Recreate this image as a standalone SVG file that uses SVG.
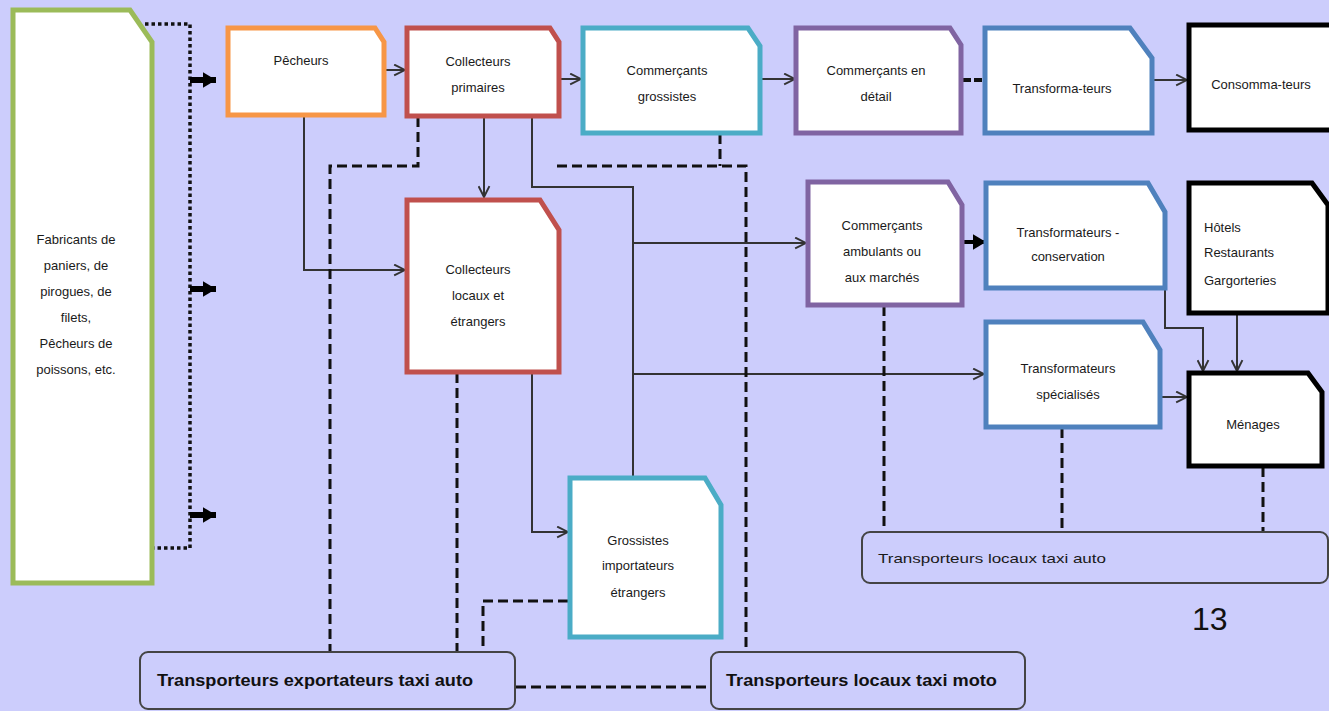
<svg xmlns="http://www.w3.org/2000/svg" width="1329" height="711" viewBox="0 0 1329 711">
<defs>
<style>
.n{fill:#fff;stroke-width:5;stroke-linejoin:miter}
.t{font-family:"Liberation Sans",Arial,sans-serif;font-size:13px;fill:#1a1a1a;text-anchor:middle}
.tl{font-family:"Liberation Sans",Arial,sans-serif;font-size:13px;fill:#1a1a1a}
.sol{fill:none;stroke:#333;stroke-width:2}
.dash{fill:none;stroke:#111;stroke-width:3;stroke-dasharray:10 5}
.dot{fill:none;stroke:#111;stroke-width:3.5;stroke-dasharray:3.5 3}
.rr{fill:none;stroke:#444;stroke-width:2}
.b{font-family:"Liberation Sans",Arial,sans-serif;font-size:17px;font-weight:bold;fill:#111}
</style>
<marker id="v" viewBox="0 0 12 12" refX="11" refY="6" markerWidth="13" markerHeight="13" markerUnits="userSpaceOnUse" orient="auto">
<path d="M1,1 L11,6 L1,11" fill="none" stroke="#333" stroke-width="1.8"/>
</marker>
<marker id="fat" viewBox="0 0 10 12" refX="10" refY="6" markerWidth="13" markerHeight="16" markerUnits="userSpaceOnUse" orient="auto">
<path d="M0,0 L10,6 L0,12 z" fill="#000"/>
</marker>
</defs>
<rect x="0" y="0" width="1329" height="711" fill="#cccdfc"/>

<g id="connectors">
<path class="dot" d="M145,24 H190 V548 H152"/>
<line x1="190" y1="80" x2="216" y2="80" stroke="#000" stroke-width="6" marker-end="url(#fat)"/>
<line x1="190" y1="289" x2="216" y2="289" stroke="#000" stroke-width="6" marker-end="url(#fat)"/>
<line x1="190" y1="515" x2="216" y2="515" stroke="#000" stroke-width="6" marker-end="url(#fat)"/>
<line class="sol" x1="386" y1="70" x2="405" y2="70" marker-end="url(#v)"/>
<line class="sol" x1="561" y1="79" x2="581" y2="79" marker-end="url(#v)"/>
<line class="sol" x1="762" y1="79" x2="795" y2="79" marker-end="url(#v)"/>
<line x1="963" y1="80" x2="984" y2="80" stroke="#111" stroke-width="4" stroke-dasharray="8 3"/>
<line class="sol" x1="1154" y1="80" x2="1187" y2="80" marker-end="url(#v)"/>
<line class="sol" x1="484" y1="117" x2="484" y2="197" marker-end="url(#v)"/>
<path class="sol" d="M304,116 V270 H405" marker-end="url(#v)"/>
<path class="sol" d="M532,116 V187 H633 V492" marker-end="url(#v)"/>
<line class="sol" x1="633" y1="243" x2="806" y2="243" marker-end="url(#v)"/>
<line class="sol" x1="633" y1="374" x2="984" y2="374" marker-end="url(#v)"/>
<path class="sol" d="M532,373 V532 H568" marker-end="url(#v)"/>
<line x1="963" y1="242" x2="986" y2="242" stroke="#000" stroke-width="4" marker-end="url(#fat)"/>
<path class="sol" d="M1165,280 V328 H1203 V371" marker-end="url(#v)"/>
<line class="sol" x1="1237" y1="314" x2="1237" y2="371" marker-end="url(#v)"/>
<line class="sol" x1="1162" y1="397" x2="1187" y2="397" marker-end="url(#v)"/>
<path class="dash" d="M418,117 V166 H330 V652"/>
<path class="dash" d="M720,134 V166"/>
<path class="dash" d="M557,166 H746 V652"/>
<path class="dash" d="M457,373 V652"/>
<path class="dash" d="M568,601 H483 V652"/>
<path class="dash" d="M516,687 H711"/>
<path class="dash" d="M884,306 V532"/>
<path class="dash" d="M1062,428 V532"/>
<path class="dash" d="M1263,467 V532"/>
</g>

<g id="fabricants">
<polygon class="n" stroke="#9bbb59" points="13,10 130,10 152,42 152,583 13,583"/>
<text class="t" x="76" y="244">Fabricants de</text>
<text class="t" x="76" y="270">paniers, de</text>
<text class="t" x="76" y="296">pirogues, de</text>
<text class="t" x="76" y="322">filets,</text>
<text class="t" x="76" y="348">Pêcheurs de</text>
<text class="t" x="76" y="374">poissons, etc.</text>
</g>
<g id="pecheurs">
<polygon class="n" stroke="#f79646" points="228,28 375,28 384,42 384,115 228,115"/>
<text class="t" x="301" y="65">Pêcheurs</text>
</g>
<g id="collecteurs-primaires">
<polygon class="n" stroke="#c0504d" points="407,28 550,28 559,42 559,116 407,116"/>
<text class="t" x="478" y="66">Collecteurs</text>
<text class="t" x="478" y="92">primaires</text>
</g>
<g id="commercants-grossistes">
<polygon class="n" stroke="#4bacc6" points="583,28 748,28 760,46 760,133 583,133"/>
<text class="t" x="667" y="75">Commerçants</text>
<text class="t" x="667" y="101">grossistes</text>
</g>
<g id="commercants-detail">
<polygon class="n" stroke="#8064a2" points="796,28 950,28 961,45 961,133 796,133"/>
<text class="t" x="876" y="75">Commerçants  en</text>
<text class="t" x="876" y="101">détail</text>
</g>
<g id="transformateurs">
<polygon class="n" stroke="#4f81bd" points="985,28 1130,28 1152,58 1152,133 985,133"/>
<text class="t" x="1062" y="93">Transforma-teurs</text>
</g>
<g id="consommateurs">
<polygon class="n" stroke="#000" points="1189,25 1340,25 1340,130 1189,130"/>
<text class="t" x="1261" y="89">Consomma-teurs</text>
</g>
<g id="collecteurs-locaux">
<polygon class="n" stroke="#c0504d" points="407,200 540,200 559,230 559,372 407,372"/>
<text class="t" x="478" y="274">Collecteurs</text>
<text class="t" x="478" y="300">locaux et</text>
<text class="t" x="478" y="326">étrangers</text>
</g>
<g id="grossistes-importateurs">
<polygon class="n" stroke="#4bacc6" points="570,478 705,478 721,505 721,637 570,637"/>
<text class="t" x="638" y="545">Grossistes</text>
<text class="t" x="638" y="570">importateurs</text>
<text class="t" x="638" y="597">étrangers</text>
</g>
<g id="commercants-ambulants">
<polygon class="n" stroke="#8064a2" points="808,182 948,182 962,205 962,305 808,305"/>
<text class="t" x="882" y="230">Commerçants</text>
<text class="t" x="882" y="256">ambulants ou</text>
<text class="t" x="882" y="282">aux marchés</text>
</g>
<g id="transformateurs-conservation">
<polygon class="n" stroke="#4f81bd" points="986,183 1148,183 1165,212 1165,288 986,288"/>
<text class="t" x="1068" y="237">Transformateurs  -</text>
<text class="t" x="1068" y="261">conservation</text>
</g>
<g id="hotels">
<polygon class="n" stroke="#000" points="1189,183 1312,183 1328,205 1328,313 1189,313"/>
<text class="tl" x="1204" y="232">Hôtels</text>
<text class="tl" x="1204" y="257">Restaurants</text>
<text class="tl" x="1204" y="285">Gargorteries</text>
</g>
<g id="transformateurs-specialises">
<polygon class="n" stroke="#4f81bd" points="986,322 1143,322 1160,350 1160,427 986,427"/>
<text class="t" x="1068" y="373">Transformateurs</text>
<text class="t" x="1068" y="399">spécialisés</text>
</g>
<g id="menages">
<polygon class="n" stroke="#000" points="1189,373 1308,373 1322,392 1322,466 1189,466"/>
<text class="t" x="1253" y="429">Ménages</text>
</g>
<g id="transporteurs-locaux-auto">
<rect class="rr" x="862" y="532" width="466" height="51" rx="8"/>
<text class="tl" x="878" y="563" font-size="15" textLength="228" lengthAdjust="spacingAndGlyphs">Transporteurs locaux taxi auto</text>
</g>
<g id="transporteurs-exportateurs">
<rect class="rr" x="140" y="652" width="375" height="57" rx="8"/>
<text class="b" x="157" y="686" textLength="316" lengthAdjust="spacingAndGlyphs">Transporteurs exportateurs taxi auto</text>
</g>
<g id="transporteurs-moto">
<rect class="rr" x="711" y="652" width="314" height="57" rx="8"/>
<text class="b" x="726" y="686" textLength="271" lengthAdjust="spacingAndGlyphs">Transporteurs locaux taxi moto</text>
</g>
<text x="1192" y="630" font-family="Liberation Sans,Arial,sans-serif" font-size="32" fill="#111">13</text>
</svg>
